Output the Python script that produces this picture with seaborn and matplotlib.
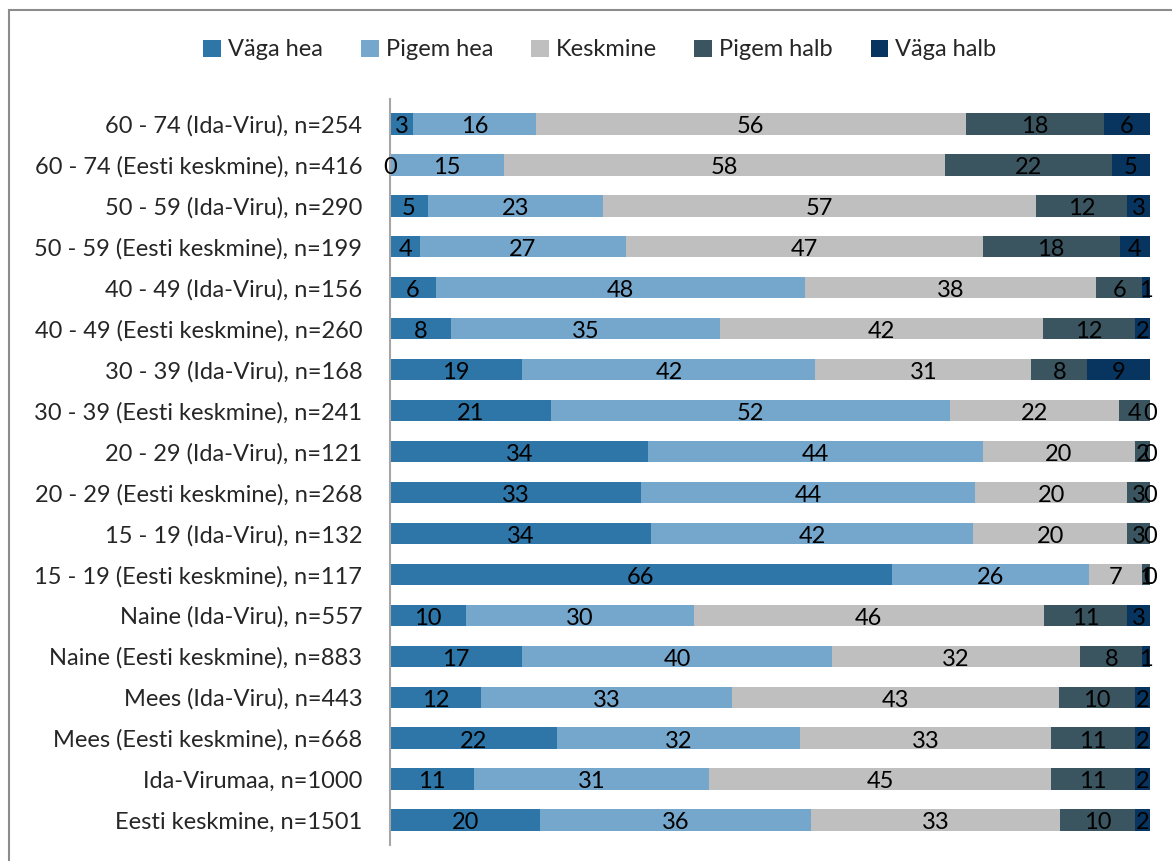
import numpy as np
import pandas as pd
import matplotlib
matplotlib.use("Agg")
import matplotlib.pyplot as plt
from matplotlib.patches import Patch, Rectangle
import seaborn as sns

categories = [
    "60 - 74 (Ida-Viru), n=254",
    "60 - 74 (Eesti keskmine), n=416",
    "50 - 59 (Ida-Viru), n=290",
    "50 - 59 (Eesti keskmine), n=199",
    "40 - 49 (Ida-Viru), n=156",
    "40 - 49 (Eesti keskmine), n=260",
    "30 - 39 (Ida-Viru), n=168",
    "30 - 39 (Eesti keskmine), n=241",
    "20 - 29 (Ida-Viru), n=121",
    "20 - 29 (Eesti keskmine), n=268",
    "15 - 19 (Ida-Viru), n=132",
    "15 - 19 (Eesti keskmine), n=117",
    "Naine (Ida-Viru), n=557",
    "Naine (Eesti keskmine), n=883",
    "Mees (Ida-Viru), n=443",
    "Mees (Eesti keskmine), n=668",
    "Ida-Virumaa, n=1000",
    "Eesti keskmine, n=1501",
]
series_names = ["Väga hea", "Pigem hea", "Keskmine", "Pigem halb", "Väga halb"]
vaga_hea   = [3, 0, 5, 4, 6, 8, 19, 21, 34, 33, 34, 66, 10, 17, 12, 22, 11, 20]
pigem_hea  = [16, 15, 23, 27, 48, 35, 42, 52, 44, 44, 42, 26, 30, 40, 33, 32, 31, 36]
keskmine   = [56, 58, 57, 47, 38, 42, 31, 22, 20, 20, 20, 7, 46, 32, 43, 33, 45, 33]
pigem_halb = [18, 22, 12, 18, 6, 12, 8, 4, 2, 3, 3, 1, 11, 8, 10, 11, 11, 10]
vaga_halb  = [6, 5, 3, 4, 1, 2, 9, 0, 0, 0, 0, 0, 3, 1, 2, 2, 2, 2]
colors = ["#2E75A8", "#75A6CC", "#BFBFBF", "#3B5560", "#083460"]

sns.set_style("white")
plt.rcParams["font.family"] = ["Lato", "DejaVu Sans"]

vals = np.array([vaga_hea, pigem_hea, keskmine, pigem_halb, vaga_halb], dtype=float)
totals = vals.sum(axis=0)
pct = vals / totals * 100.0
cum = np.cumsum(pct, axis=0)

fig = plt.figure(figsize=(11.72, 8.61), dpi=100)
ax = fig.add_axes([390 / 1172, 1 - 840.5 / 861, 760 / 1172, 737 / 861])

for i in range(4, -1, -1):
    df = pd.DataFrame({"cat": categories, "val": cum[i]})
    sns.barplot(data=df, x="val", y="cat", orient="h", color=colors[i],
                saturation=1, width=0.52, ax=ax, edgecolor="none")

for i in range(5):
    starts = cum[i] - pct[i]
    for j in range(len(categories)):
        xc = starts[j] + pct[i][j] / 2
        ax.text(xc, j + 0.07, f"{int(vals[i][j])}", ha="center", va="center",
                fontsize=17, color="black")

ax.set_xlim(0, 100)
ax.set_ylim(17.5, -0.5)
ax.set_xlabel("")
ax.set_ylabel("")
ax.set_xticks([])
ax.tick_params(axis="y", length=0, pad=20, labelsize=17)
for s in ["top", "right", "bottom"]:
    ax.spines[s].set_visible(False)
ax.spines["left"].set_color("#A6A6A6")
ax.spines["left"].set_linewidth(1.5)
ax.spines["left"].set_bounds(17.5 + 0.1, -0.5 - 0.1)
ax.spines["left"].set_clip_on(False)

handles = [Patch(facecolor=c, edgecolor="none") for c in colors]
fig.legend(handles, series_names, loc="center", bbox_to_anchor=(600 / 1172, 1 - 50 / 861),
           ncol=5, frameon=False, fontsize=17, handlelength=0.75, handleheight=0.75,
           columnspacing=1.6, handletextpad=0.3)

fig.patches.append(Rectangle((9 / 1172, -0.1), 1.2, 1 - 10 / 861 + 0.1,
                             transform=fig.transFigure, fill=False,
                             edgecolor="#8C8C8C", linewidth=1.5))

fig.savefig("out.png", dpi=100)
